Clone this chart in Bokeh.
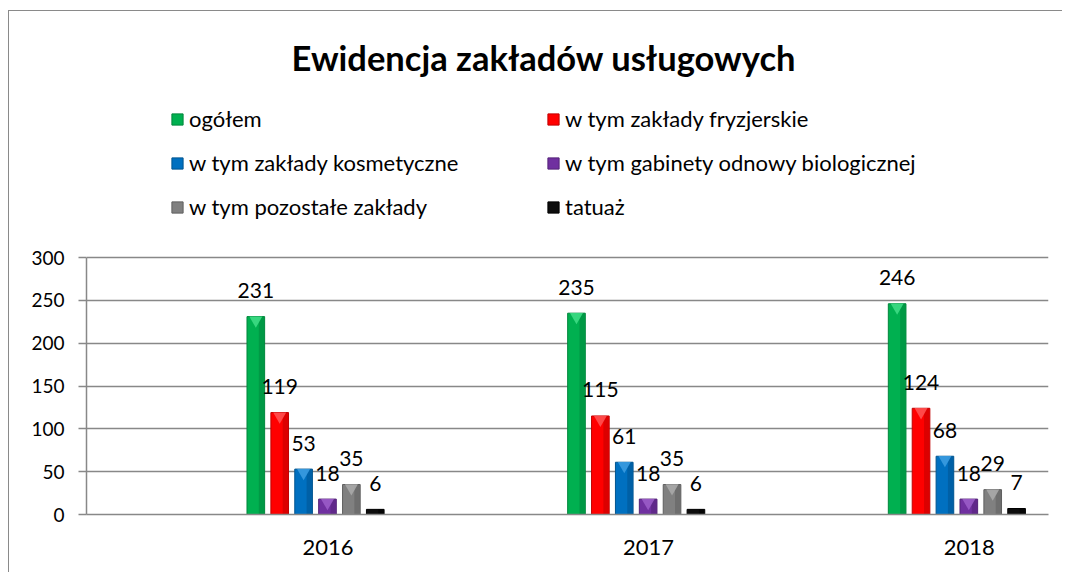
import numpy as np
from bokeh.plotting import figure
from bokeh.models import ColumnDataSource, Legend, LegendItem, FixedTicker, Range1d
from bokeh.transform import dodge
from bokeh.core.properties import value
from bokeh.embed import file_html
from bokeh.resources import INLINE

# ---- data ----
years = ["2016", "2017", "2018"]
series_names = ["ogółem", "w tym zakłady fryzjerskie", "w tym zakłady kosmetyczne",
                "w tym gabinety odnowy biologicznej", "w tym pozostałe zakłady", "tatuaż"]
ogolem = [231, 235, 246]
fryzjerskie = [119, 115, 124]
kosmetyczne = [53, 61, 68]
gabinety = [18, 18, 18]
pozostale = [35, 35, 29]
tatuaz = [6, 6, 7]
y_ticks = [0, 50, 100, 150, 200, 250, 300]

series_values = [ogolem, fryzjerskie, kosmetyczne, gabinety, pozostale, tatuaz]
colors = ["#00B050", "#FF0000", "#0070C0", "#7030A0", "#808080", "#0D0D0D"]
edge = ["#00863C", "#C00000", "#00548F", "#542378", "#5F5F5F", "#000000"]
hilite = ["#3DDC84", "#FF5050", "#3A9BE0", "#9A5CC8", "#A8A8A8", "#404040"]

FONT = "Lato"
AX = "#888888"

# layout (pixels)
W, H = 1054, 562
LEFT, RIGHT_EDGE, TOP, BOTTOM_EDGE = 77, 1039, 80, 503
AXIS_PX = 257  # pixel height of the 0..300 value span
frame_h = BOTTOM_EDGE - TOP
y_max = y_ticks[-1]
y_end = y_max * frame_h / AXIS_PX

x_center = [i + 0.5 for i in range(len(years))]
tick_pos = [c + 0.253 for c in x_center]

p = figure(width=W, height=H, output_backend="svg", toolbar_location=None,
           x_range=Range1d(0, len(years)), y_range=Range1d(0, y_end),
           min_border_left=LEFT, min_border_right=W - RIGHT_EDGE,
           min_border_bottom=H - BOTTOM_EDGE, min_border_top=TOP,
           title="Ewidencja zakładów usługowych")
p.margin = (10, 0, 0, 8)
p.styles = {"border-top": "1.5px solid #8a8a8a", "border-left": "1.5px solid #8a8a8a"}
p.background_fill_color = "white"
p.border_fill_color = "white"
p.outline_line_color = None

p.title.align = "left"
p.title.offset = 205
p.title.standoff = 28
p.title.text_font = FONT
p.title.text_font_size = "34.5px"
p.title.text_font_style = "bold"
p.title.text_color = "black"

first_off = 0.028
pitch = 0.0745
bw = 0.055

items = []
for i, (name, vals) in enumerate(zip(series_names, series_values)):
    src = ColumnDataSource(dict(x=x_center, v=vals, lab=[str(v) for v in vals]))
    off = first_off + i * pitch
    r = p.vbar(x=dodge("x", off, range=p.x_range), top="v", width=bw, bottom=0, source=src,
               fill_color=colors[i], line_color=edge[i], line_width=1)
    p.vbar(x=dodge("x", off + bw * 0.32, range=p.x_range), top="v", width=bw * 0.3, bottom=0,
           source=src, fill_color=edge[i], fill_alpha=0.55, line_color=None)
    if i < 5:
        p.scatter(x=dodge("x", off, range=p.x_range), y=dodge("v", -4.2, range=p.y_range),
                  marker="inverted_triangle", size=13, source=src,
                  fill_color=hilite[i], line_color=None, fill_alpha=0.9)
    p.text(x=dodge("x", off, range=p.x_range), y="v", text="lab", source=src,
           text_align="center", text_baseline="alphabetic", y_offset=-26,
           text_font=value(FONT), text_font_size="21px", text_color="black")
    items.append(LegendItem(label=name, renderers=[r]))

# legend fills column-wise; order items so that it reads row by row (2 columns)
ncols = 2
nrows = (len(items) + ncols - 1) // ncols
ordered = [items[r * ncols + c] for c in range(ncols) for r in range(nrows)]

legend = Legend(items=ordered, ncols=ncols, location=(84, 294),
                label_text_font=FONT, label_text_font_size="22px", label_text_color="black",
                glyph_width=14, glyph_height=14, label_standoff=5, label_width=340,
                label_height=22, spacing=17, padding=0, margin=0,
                border_line_color=None, background_fill_alpha=0)
p.add_layout(legend, "center")

# axes
p.yaxis.ticker = FixedTicker(ticks=y_ticks)
p.yaxis.bounds = (y_ticks[0], y_ticks[-1])
p.yaxis.axis_line_color = AX
p.yaxis.axis_line_width = 1.5
p.yaxis.major_tick_line_color = AX
p.yaxis.major_tick_line_width = 1.5
p.yaxis.major_tick_out = 8
p.yaxis.major_tick_in = 0
p.yaxis.minor_tick_line_color = None
p.yaxis.major_label_standoff = 14
p.yaxis.major_label_text_font = FONT
p.yaxis.major_label_text_font_size = "19px"
p.yaxis.major_label_text_color = "black"

p.xaxis.ticker = FixedTicker(ticks=tick_pos)
p.xaxis.major_label_overrides = {t: y for t, y in zip(tick_pos, years)}
p.xaxis.axis_line_color = AX
p.xaxis.axis_line_width = 1.5
p.xaxis.major_tick_line_color = None
p.xaxis.minor_tick_line_color = None
p.xaxis.major_label_standoff = 19
p.xaxis.major_label_text_font = FONT
p.xaxis.major_label_text_font_size = "22px"
p.xaxis.major_label_text_color = "black"

p.xgrid.grid_line_color = None
p.ygrid.grid_line_color = AX
p.ygrid.grid_line_width = 1.5
p.ygrid.ticker = FixedTicker(ticks=y_ticks)

open("out.html", "w").write(file_html(p, INLINE))
